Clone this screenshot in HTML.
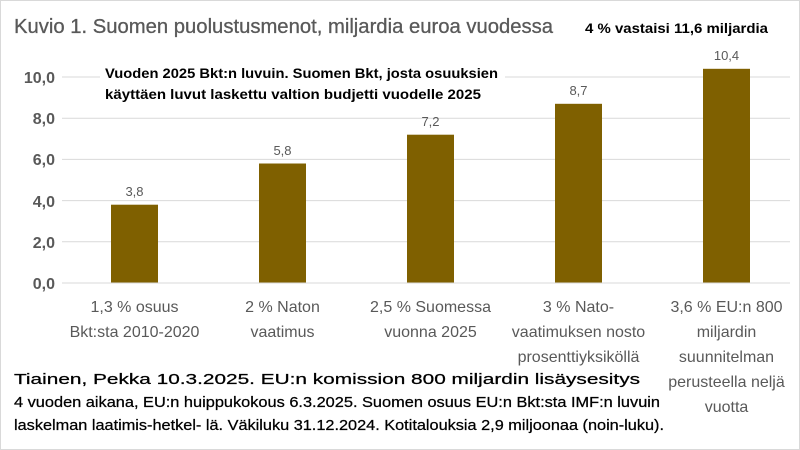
<!DOCTYPE html>
<html><head><meta charset="utf-8"><style>
body{margin:0;background:#fff}
svg{display:block;font-family:"Liberation Sans",sans-serif}
</style></head><body>
<svg width="800" height="450" viewBox="0 0 800 450">
<rect x="0.5" y="0.5" width="799" height="449" fill="#fff" stroke="#d9d9d9"/>
<text x="14" y="33" font-size="20" fill="#595959" stroke="#595959" stroke-width="0.3" textLength="539" lengthAdjust="spacingAndGlyphs">Kuvio 1. Suomen puolustusmenot, miljardia euroa vuodessa</text>
<text x="585" y="33" font-size="14" font-weight="bold" fill="#000" textLength="183" lengthAdjust="spacingAndGlyphs">4 % vastaisi 11,6 miljardia</text>
<g stroke="#d9d9d9" stroke-width="1">
<line x1="62" x2="790" y1="77" y2="77"/><line x1="62" x2="790" y1="118.2" y2="118.2"/>
<line x1="62" x2="790" y1="159.4" y2="159.4"/><line x1="62" x2="790" y1="200.6" y2="200.6"/>
<line x1="62" x2="790" y1="241.8" y2="241.8"/>
</g>
<g font-size="16" font-weight="bold" fill="#595959" text-anchor="end">
<text x="55" y="83">10,0</text><text x="55" y="124">8,0</text><text x="55" y="165">6,0</text>
<text x="55" y="207">4,0</text><text x="55" y="248">2,0</text><text x="55" y="289">0,0</text>
</g>
<rect x="100" y="66" width="405" height="40" fill="#fff"/>
<text x="105" y="78" font-size="14" font-weight="bold" fill="#000" textLength="393" lengthAdjust="spacingAndGlyphs">Vuoden 2025 Bkt:n luvuin. Suomen Bkt, josta osuuksien</text>
<text x="105" y="99" font-size="14" font-weight="bold" fill="#000" textLength="376" lengthAdjust="spacingAndGlyphs">käyttäen luvut laskettu valtion budjetti vuodelle 2025</text>
<g fill="#7f6000">
<rect x="111" y="204.7" width="47" height="78.3"/>
<rect x="259" y="163.5" width="47" height="119.5"/>
<rect x="407" y="134.7" width="47" height="148.3"/>
<rect x="555" y="103.8" width="47" height="179.2"/>
<rect x="703" y="68.8" width="47" height="214.2"/>
</g>
<line x1="62" x2="790" y1="283" y2="283" stroke="#d9d9d9"/>
<g font-size="13" fill="#595959" text-anchor="middle">
<text x="134.5" y="196">3,8</text><text x="282.5" y="155">5,8</text><text x="430.5" y="126">7,2</text>
<text x="578.5" y="95">8,7</text><text x="726.5" y="60">10,4</text>
</g>
<g font-size="16" fill="#595959" text-anchor="middle">
<text x="134.5" y="312">1,3 % osuus</text><text x="134.5" y="337">Bkt:sta 2010-2020</text>
<text x="282.5" y="312">2 % Naton</text><text x="282.5" y="337">vaatimus</text>
<text x="430.5" y="312">2,5 % Suomessa</text><text x="430.5" y="337">vuonna 2025</text>
<text x="578.5" y="312">3 % Nato-</text><text x="578.5" y="337">vaatimuksen nosto</text><text x="578.5" y="362">prosenttiyksiköllä</text>
<text x="726.5" y="312">3,6 % EU:n 800</text><text x="726.5" y="337">miljardin</text><text x="726.5" y="362">suunnitelman</text><text x="726.5" y="387">perusteella neljä</text><text x="726.5" y="412">vuotta</text>
</g>
<g font-size="15" fill="#000" stroke="#000" stroke-width="0.25">
<text x="14" y="384" textLength="626" lengthAdjust="spacingAndGlyphs">Tiainen, Pekka 10.3.2025. EU:n komission 800 miljardin lisäysesitys</text>
<text x="14" y="407" textLength="646" lengthAdjust="spacingAndGlyphs">4 vuoden aikana, EU:n huippukokous  6.3.2025. Suomen osuus EU:n Bkt:sta IMF:n luvuin</text>
<text x="14" y="430" textLength="650" lengthAdjust="spacingAndGlyphs">laskelman laatimis-hetkel- lä. Väkiluku 31.12.2024. Kotitalouksia 2,9 miljoonaa (noin-luku).</text>
</g>
</svg>
</body></html>
